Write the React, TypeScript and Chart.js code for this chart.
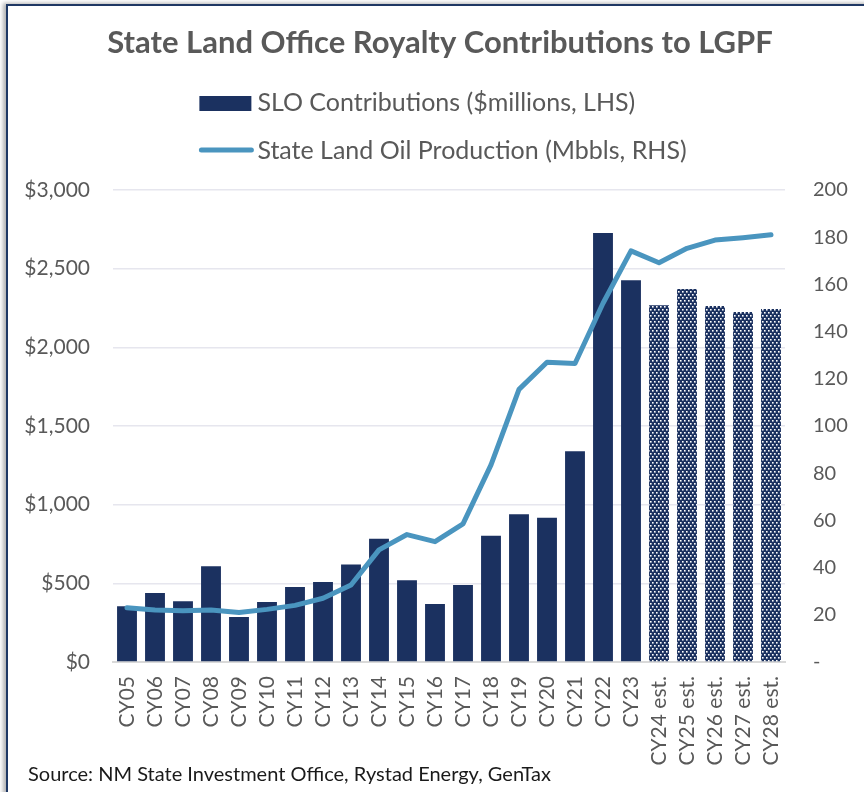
import React, { useEffect, useRef } from "react";
import { Chart, registerables } from "chart.js";

Chart.register(...registerables);

const TITLE = "State Land Office Royalty Contributions to LGPF";
const SOURCE = "Source: NM State Investment Office, Rystad Energy, GenTax";
const LEGEND_BAR = "SLO Contributions ($millions, LHS)";
const LEGEND_LINE = "State Land Oil Production (Mbbls, RHS)";

const categories = [
  "CY05", "CY06", "CY07", "CY08", "CY09", "CY10", "CY11", "CY12", "CY13", "CY14",
  "CY15", "CY16", "CY17", "CY18", "CY19", "CY20", "CY21", "CY22", "CY23",
  "CY24 est.", "CY25 est.", "CY26 est.", "CY27 est.", "CY28 est.",
];

const sloContributions = [
  355, 439, 386, 608, 286, 381, 477, 509, 619, 784,
  519, 369, 489, 803, 939, 917, 1339, 2727, 2426,
  2268, 2371, 2263, 2225, 2244,
];

const oilProduction = [
  23, 22, 21.7, 22, 21, 22.3, 24, 27, 32.6, 47.5,
  54, 51, 58.5, 83.5, 115.5, 127, 126.5, 152, 174.2,
  169.2, 175.3, 178.8, 179.8, 181,
];

const isEstimate = [
  false, false, false, false, false, false, false, false, false, false,
  false, false, false, false, false, false, false, false, false,
  true, true, true, true, true,
];

const leftAxisMax = 3000;
const leftAxisStep = 500;
const rightAxisMax = 200;
const rightAxisStep = 20;

const NAVY = "#1b3160";
const LINE_BLUE = "#4a95bf";
const GREY_TEXT = "#595959";

function makePattern(): CanvasPattern | string {
  const c = document.createElement("canvas");
  c.width = 4;
  c.height = 6;
  const g = c.getContext("2d");
  if (!g) return NAVY;
  g.fillStyle = NAVY;
  g.fillRect(0, 0, 4, 6);
  g.fillStyle = "#ffffff";
  g.fillRect(0, 0, 1.6, 1.6);
  g.fillRect(2, 3, 1.6, 1.6);
  const p = g.createPattern(c, "repeat");
  return p || NAVY;
}

const textPlugin = {
  id: "customTexts",
  afterDraw(chart: any) {
    const ctx = chart.ctx as CanvasRenderingContext2D;
    const area = chart.chartArea;
    ctx.save();
    // Title
    ctx.font = "bold 31px Lato";
    ctx.fillStyle = GREY_TEXT;
    ctx.textAlign = "center";
    ctx.textBaseline = "middle";
    ctx.fillText(TITLE, 440, 43);

    // Legend
    ctx.font = "25px Lato";
    const sampleW = 52;
    const gap = 6;
    const w1 = ctx.measureText(LEGEND_BAR).width + sampleW + gap;
    const w2 = ctx.measureText(LEGEND_LINE).width + sampleW + gap;
    const blockW = Math.max(w1, w2);
    const left = (area.left + area.right) / 2 - blockW / 2 - 6;
    ctx.textAlign = "left";
    ctx.fillStyle = NAVY;
    ctx.fillRect(left, 96, sampleW, 15);
    ctx.strokeStyle = LINE_BLUE;
    ctx.lineWidth = 5;
    ctx.lineCap = "round";
    ctx.beginPath();
    ctx.moveTo(left + 2, 150);
    ctx.lineTo(left + sampleW, 150);
    ctx.stroke();
    ctx.fillStyle = GREY_TEXT;
    ctx.fillText(LEGEND_BAR, left + sampleW + gap, 103);
    ctx.fillText(LEGEND_LINE, left + sampleW + gap, 151);

    // Source
    ctx.font = "20px Lato";
    ctx.fillStyle = "#1a1a1a";
    ctx.fillText(SOURCE, 28, 775);
    ctx.restore();
  },
};

export default function App() {
  const canvasRef = useRef<HTMLCanvasElement | null>(null);

  useEffect(() => {
    const canvas = canvasRef.current;
    if (!canvas) return;
    const pattern = makePattern();
    const barColors = isEstimate.map((e) => (e ? pattern : NAVY));

    const chart = new Chart(canvas, {
      type: "bar",
      data: {
        labels: categories,
        datasets: [
          {
            type: "line",
            label: LEGEND_LINE,
            data: oilProduction,
            yAxisID: "y1",
            borderColor: LINE_BLUE,
            backgroundColor: LINE_BLUE,
            borderWidth: 5,
            pointRadius: 0,
            tension: 0,
            order: 0,
            borderJoinStyle: "round",
            borderCapStyle: "round",
          } as any,
          {
            type: "bar",
            label: LEGEND_BAR,
            data: sloContributions,
            yAxisID: "y",
            backgroundColor: barColors as any,
            borderWidth: 0,
            barPercentage: 0.71,
            categoryPercentage: 1,
            order: 1,
          } as any,
        ],
      },
      options: {
        responsive: false,
        animation: false,
        devicePixelRatio: 1,
        layout: { padding: { top: 190, left: 0, right: 0, bottom: 0 } },
        plugins: {
          legend: { display: false },
          title: { display: false },
          tooltip: { enabled: false },
        },
        scales: {
          x: {
            grid: { display: false, drawTicks: false },
            border: { display: true, color: "#d9d9d9", width: 2 },
            ticks: {
              autoSkip: false,
              minRotation: 90,
              maxRotation: 90,
              padding: 14,
              color: GREY_TEXT,
              font: { family: "Lato", size: 21 },
            },
            afterFit: (scale: any) => {
              scale.height = 130;
            },
          },
          y: {
            position: "left",
            min: 0,
            max: leftAxisMax,
            grid: { color: "#e6e6ee", lineWidth: 1.5, drawTicks: false },
            border: { display: false },
            ticks: {
              stepSize: leftAxisStep,
              padding: 23,
              color: GREY_TEXT,
              font: { family: "Lato", size: 21 },
              callback: (v: any) => "$" + Number(v).toLocaleString("en-US"),
            },
            afterFit: (scale: any) => {
              scale.width = 113;
            },
          },
          y1: {
            position: "right",
            min: 0,
            max: rightAxisMax,
            grid: { display: false, drawTicks: false },
            border: { display: false },
            ticks: {
              stepSize: rightAxisStep,
              padding: 28,
              color: GREY_TEXT,
              font: { family: "Lato", size: 20 },
              callback: (v: any) => (Number(v) === 0 ? "-" : String(v)),
            },
            afterFit: (scale: any) => {
              scale.width = 79;
            },
          },
        },
      },
      plugins: [textPlugin],
    });
    return () => chart.destroy();
  }, []);

  return (
    <div style={{ position: "fixed", left: 0, top: 0, width: 864, height: 792, background: "#ffffff", overflow: "hidden" }}>
      <div
        style={{
          position: "absolute",
          left: 6,
          top: 4,
          width: 900,
          height: 850,
          borderLeft: "2px solid #1f3864",
          borderTop: "2px solid #1f3864",
          boxShadow: "-3px -1px 4px rgba(0,0,0,0.3)",
          background: "#ffffff",
        }}
      />
      <canvas ref={canvasRef} width={864} height={792} style={{ position: "absolute", left: 0, top: 0, width: 864, height: 792 }} />
    </div>
  );
}
